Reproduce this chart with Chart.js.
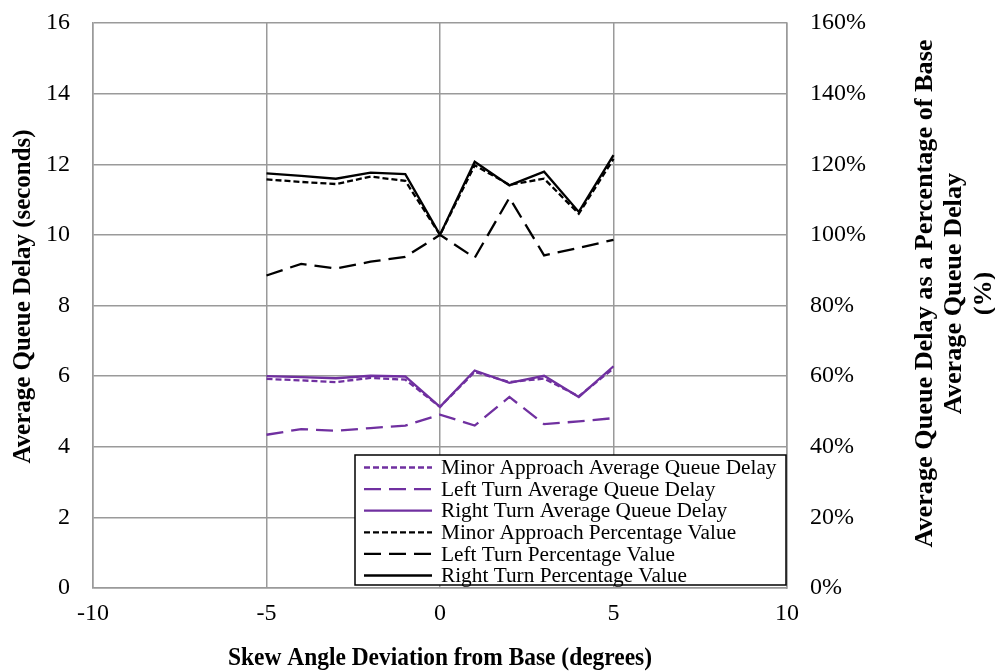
<!DOCTYPE html>
<html><head><meta charset="utf-8">
<script src="https://cdn.jsdelivr.net/npm/chart.js@4.4.0/dist/chart.umd.min.js"></script>
<style>html,body{margin:0;padding:0;background:#fff;overflow:hidden}#wrap{width:995px;height:671px;position:relative}</style>
</head><body><div id="wrap"><canvas id="c" width="995" height="671"></canvas></div>
<script>
// ---- data ----
const skewAngles = [-5, -4, -3, -2, -1, 0, 1, 2, 3, 4, 5];
const minorDelay = [5.92, 5.88, 5.83, 5.95, 5.90, 5.13, 6.12, 5.83, 5.93, 5.43, 6.22];
const leftDelay  = [4.34, 4.50, 4.45, 4.53, 4.60, 4.91, 4.60, 5.41, 4.64, 4.72, 4.81];
const rightDelay = [6.00, 5.97, 5.94, 6.01, 5.99, 5.13, 6.16, 5.81, 6.01, 5.41, 6.28];
const minorPct = [115.7, 115.0, 114.4, 116.5, 115.3, 100, 119.7, 114.2, 115.9, 106.0, 121.5];
const leftPct  = [88.5, 91.8, 90.5, 92.4, 93.8, 100, 93.5, 110.5, 94.2, 96.3, 98.6];
const rightPct = [117.4, 116.7, 115.9, 117.6, 117.2, 100, 120.7, 114.0, 117.9, 106.5, 122.6];
const seriesLabels = [
  'Minor Approach Average Queue Delay',
  'Left Turn Average Queue Delay',
  'Right Turn Average Queue Delay',
  'Minor Approach Percentage Value',
  'Left Turn Percentage Value',
  'Right Turn Percentage Value'
];
const xTitle = 'Skew Angle Deviation from Base (degrees)';
const yTitle = 'Average Queue Delay (seconds)';
const y1TitleLines = ['Average Queue Delay as a Percentage of Base', 'Average Queue Delay', '(%)'];

// ---- styling ----
const PURPLE = '#7030A0';
const SHORT = [6, 3];
const LONG = [17, 8];
const SERIF = '"Liberation Serif", "Times New Roman", serif';
const GRID = '#9a9a9a';
const CLEAR = 'rgba(0,0,0,0)';

const pts = arr => skewAngles.map((x, i) => ({x: x, y: arr[i]}));
const mk = (i, arr, color, dash, axis) => ({
  label: seriesLabels[i], data: pts(arr), borderColor: color, backgroundColor: color,
  borderWidth: 2.3, borderDash: dash, pointRadius: 0, tension: 0, fill: false, yAxisID: axis
});

const datasets = [
  mk(0, minorDelay, PURPLE, SHORT, 'y'),
  mk(1, leftDelay, PURPLE, LONG, 'y'),
  mk(2, rightDelay, PURPLE, [], 'y'),
  mk(3, minorPct, '#000', SHORT, 'y1'),
  mk(4, leftPct, '#000', LONG, 'y1'),
  mk(5, rightPct, '#000', [], 'y1')
];

function drawFit(ctx, text, x, y, rot, s) {
  ctx.save(); ctx.translate(x, y); ctx.rotate(rot); ctx.scale(s, 1);
  ctx.fillText(text, 0, 0); ctx.restore();
}

const decor = {
  id: 'decor',
  afterDatasetsDraw(chart) {
    const ctx = chart.ctx, a = chart.chartArea;
    // legend
    const bw = 431, bh = 130;
    const bx = a.right - 1 - bw, by = a.bottom - 3 - bh;
    ctx.save();
    ctx.fillStyle = '#fff';
    ctx.fillRect(bx, by, bw, bh);
    ctx.strokeStyle = '#000'; ctx.lineWidth = 1.5;
    ctx.strokeRect(bx, by, bw, bh);
    ctx.font = '21.3px ' + SERIF;
    ctx.textBaseline = 'middle'; ctx.textAlign = 'left';
    chart.data.datasets.forEach((ds, i) => {
      const yy = by + 12.5 + i * 21.6;
      ctx.strokeStyle = ds.borderColor; ctx.lineWidth = 2.3;
      ctx.setLineDash(ds.borderDash && ds.borderDash.length ? ds.borderDash : []);
      ctx.beginPath(); ctx.moveTo(bx + 9, yy); ctx.lineTo(bx + 77, yy); ctx.stroke();
      ctx.setLineDash([]);
      ctx.fillStyle = '#000';
      ctx.fillText(ds.label, bx + 86, yy + 1);
    });
    ctx.restore();
  },
  afterDraw(chart) {
    const ctx = chart.ctx, a = chart.chartArea;
    ctx.save();
    ctx.fillStyle = '#000';
    ctx.font = 'bold 26px ' + SERIF;
    ctx.textAlign = 'center'; ctx.textBaseline = 'middle';
    const cx = (a.left + a.right) / 2, cy = (a.top + a.bottom) / 2;
    let w = ctx.measureText(xTitle).width;
    drawFit(ctx, xTitle, cx, 658, 0, 424 / w);
    w = ctx.measureText(yTitle).width;
    drawFit(ctx, yTitle, 23, cy - 9, -Math.PI / 2, 334 / w);
    w = ctx.measureText(y1TitleLines[0]).width;
    const s = 508 / w;
    y1TitleLines.forEach((t, i) => drawFit(ctx, t, 925 + i * 29.5, cy - 12, -Math.PI / 2, s));
    ctx.restore();
  }
};

new Chart(document.getElementById('c'), {
  type: 'line',
  data: { datasets: datasets },
  plugins: [decor],
  options: {
    responsive: false, animation: false,
    layout: { padding: { top: 23, left: 0, right: 0, bottom: 0 } },
    plugins: { legend: { display: false }, tooltip: { enabled: false } },
    scales: {
      x: {
        type: 'linear', position: 'bottom', min: -10, max: 10,
        afterFit: s => { s.height = 83; },
        ticks: { stepSize: 5, color: '#000', padding: 11, font: { family: SERIF, size: 24 } },
        grid: { color: GRID, lineWidth: 1.5, drawTicks: false },
        border: { color: GRID, width: 1.5 }
      },
      y: {
        position: 'left', min: 0, max: 16,
        afterFit: s => { s.width = 93; },
        ticks: { stepSize: 2, color: '#000', padding: 1, font: { family: SERIF, size: 24 } },
        grid: { color: GRID, lineWidth: 1.5, drawTicks: true, tickLength: 22, tickColor: CLEAR },
        border: { color: GRID, width: 1.5 }
      },
      y1: {
        position: 'right', min: 0, max: 160,
        afterFit: s => { s.width = 208; },
        ticks: { stepSize: 20, color: '#000', padding: 1, font: { family: SERIF, size: 24 },
                 callback: v => v + '%' },
        grid: { display: true, drawOnChartArea: false, drawTicks: true, tickLength: 22, tickColor: CLEAR },
        border: { display: true, color: GRID, width: 1.5 }
      }
    }
  }
});
</script></body></html>
